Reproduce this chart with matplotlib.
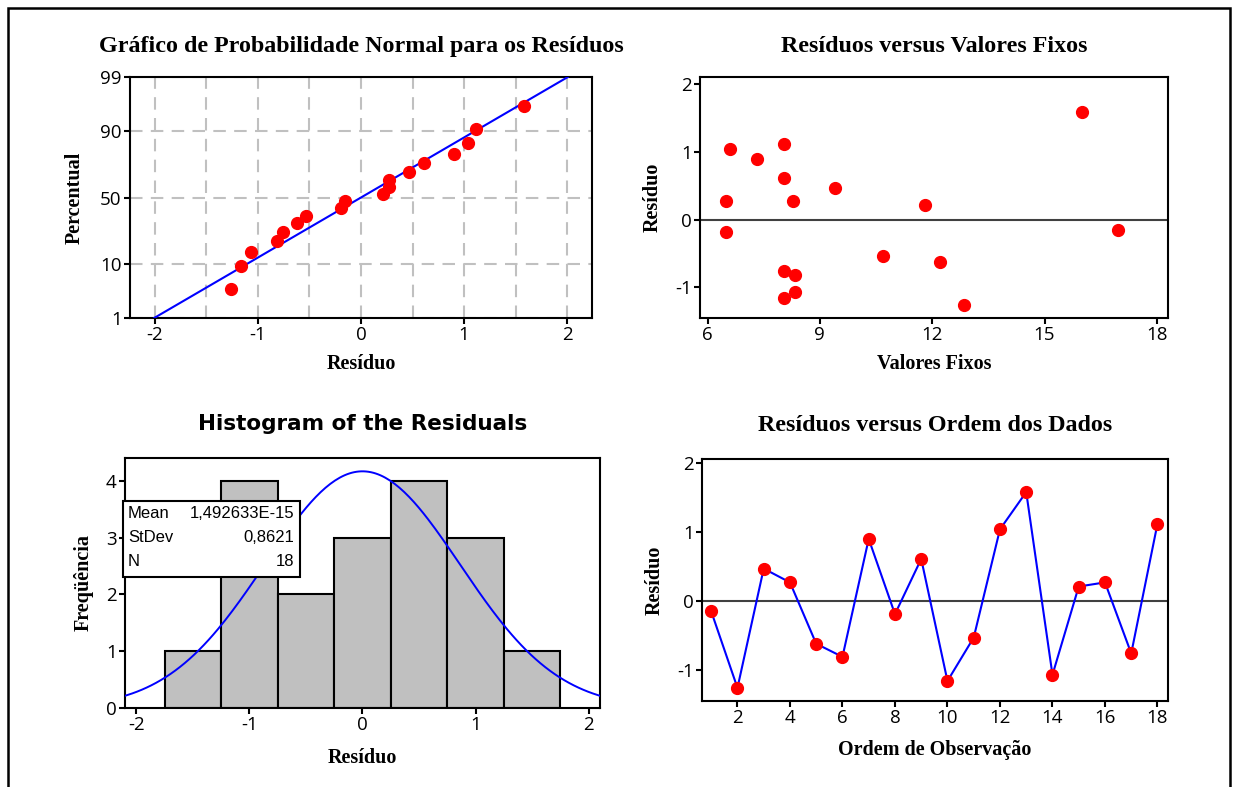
import numpy as np
import matplotlib
matplotlib.use("Agg")
from matplotlib import pyplot as plt
from matplotlib.patches import Rectangle
from matplotlib.ticker import FixedLocator
from statistics import NormalDist

# Residuals in observation order and the fitted values for the same observations
residuos = [-0.15, -1.26, 0.47, 0.27, -0.62, -0.81, 0.90, -0.19, 0.61,
            -1.16, -0.53, 1.04, 1.58, -1.07, 0.21, 0.27, -0.76, 1.12]
valores_fixos = [16.97, 12.85, 9.40, 6.48, 12.20, 8.34, 7.33, 6.48, 8.03,
                 8.03, 10.69, 6.59, 16.01, 8.34, 11.82, 8.29, 8.03, 8.03]
ordem = list(range(1, 19))

# Summary shown in the histogram box
media = 1.492633e-15
desvio = 0.8621
n_obs = 18

# Histogram bins
bordas = [-1.75, -1.25, -0.75, -0.25, 0.25, 0.75, 1.25, 1.75]

pct_ticks = [1, 10, 50, 90, 99]

serif = "Liberation Serif"
sans = "Open Sans"
plt.rcParams["font.family"] = sans
plt.rcParams["axes.linewidth"] = 1.5

nd = NormalDist()
_ppf = np.vectorize(lambda p: nd.inv_cdf(min(max(p / 100.0, 1e-9), 1 - 1e-9)), otypes=[float])
_cdf = np.vectorize(lambda z: 100.0 * nd.cdf(z), otypes=[float])


def probit(p):
    return _ppf(np.asarray(p, dtype=float))


def probit_inv(z):
    return _cdf(np.asarray(z, dtype=float))


def estilo(ax, titulo, xlabel, ylabel, tfont=serif, tsize=17.3, ypad=9, tpad=18, xpad=7):
    ax.set_title(titulo, fontfamily=tfont, fontweight="bold", fontsize=tsize, pad=tpad)
    ax.set_xlabel(xlabel, fontfamily=serif, fontweight="bold", fontsize=14.5, labelpad=xpad)
    ax.set_ylabel(ylabel, fontfamily=serif, fontweight="bold", fontsize=14.5, labelpad=ypad)
    ax.tick_params(direction="out", length=4, width=1.5, labelsize=13.5, pad=2,
                   top=False, right=False)


fig = plt.figure(figsize=(12.34, 7.87), dpi=100)
fig.add_artist(Rectangle((8 / 1234, -0.05), 1222 / 1234, 1.05 - 8 / 787,
                         transform=fig.transFigure, fill=False, lw=1.8, ec="black"))

ax1 = fig.add_axes([0.1053, 0.5959, 0.3744, 0.3062])
ax2 = fig.add_axes([0.5673, 0.5959, 0.3793, 0.3062])
ax3 = fig.add_axes([0.1013, 0.1004, 0.3849, 0.3177])
ax4 = fig.add_axes([0.5689, 0.1093, 0.3776, 0.3075])

# Normal probability plot
ordenados = np.sort(residuos)
i = np.arange(1, n_obs + 1)
percentis = 100 * (i - 0.3) / (n_obs + 0.4)
ax1.set_yscale("function", functions=(probit, probit_inv))
pl = np.linspace(1, 99, 50)
ax1.plot(media + desvio * probit(pl), pl, color="blue", lw=1.5, zorder=3)
ax1.plot(ordenados, percentis, "o", color="red", ms=8.5, zorder=4)
ax1.set_xlim(-2.24, 2.24)
ax1.set_ylim(1, 99)
ax1.yaxis.set_major_locator(FixedLocator(pct_ticks))
ax1.yaxis.set_minor_locator(FixedLocator([]))
ax1.set_yticklabels([str(p) for p in pct_ticks])
ax1.set_xticks([-2, -1, 0, 1, 2])
ax1.set_xticklabels(["-2", "-1", "0", "1", "2"])
ax1.set_xticks([-1.5, -0.5, 0.5, 1.5], minor=True)
ax1.tick_params(axis="x", which="minor", length=0)
ax1.grid(True, which="both", color="#c0c0c0", ls=(0, (6, 4)), lw=1.5, zorder=0)
estilo(ax1, "Gráfico de Probabilidade Normal para os Resíduos", "Resíduo", "Percentual",
       ypad=11)

# Residuals versus fits
ax2.axhline(0, color="#404040", lw=1.5, zorder=2)
ax2.plot(valores_fixos, residuos, "o", color="red", ms=8.5, zorder=3)
ax2.set_xlim(5.8, 18.3)
ax2.set_ylim(-1.45, 2.1)
ax2.set_xticks([6, 9, 12, 15, 18])
ax2.set_yticks([-1, 0, 1, 2])
ax2.set_yticklabels(["-1", "0", "1", "2"])
estilo(ax2, "Resíduos versus Valores Fixos", "Valores Fixos", "Resíduo")

# Histogram with normal curve
ax3.hist(residuos, bins=bordas, color="#c0c0c0", edgecolor="black", lw=1.5, zorder=2)
xc = np.linspace(-2.1, 2.1, 200)
larg = bordas[1] - bordas[0]
yc = n_obs * larg / (desvio * np.sqrt(2 * np.pi)) * np.exp(-0.5 * ((xc - media) / desvio) ** 2)
ax3.plot(xc, yc, color="blue", lw=1.4, zorder=3)
ax3.set_xlim(-2.1, 2.1)
ax3.set_ylim(0, 4.4)
ax3.set_xticks([-2, -1, 0, 1, 2])
ax3.set_xticklabels(["-2", "-1", "0", "1", "2"])
ax3.set_yticks([0, 1, 2, 3, 4])
estilo(ax3, "Histogram of the Residuals", "Resíduo", "Freqüência",
       tfont="DejaVu Sans", tsize=15.5, ypad=9, tpad=20, xpad=10)

# Summary box
bx0, by0 = 123 / 1234, 1 - 577 / 787
bw, bh = 177 / 1234, 76 / 787
fig.add_artist(Rectangle((bx0, by0), bw, bh, transform=fig.transFigure,
                         fc="white", ec="black", lw=1.5, zorder=5))
linhas = [("Mean", "1,492633E-15"), ("StDev", f"{desvio:.4f}".replace(".", ",")),
          ("N", str(n_obs))]
for k, (nome, valor) in enumerate(linhas):
    yy = by0 + bh - (13 + 24 * k) / 787
    fig.text(bx0 + 5 / 1234, yy, nome, fontsize=12, family="Liberation Sans",
             va="center", ha="left", zorder=6)
    fig.text(bx0 + bw - 6 / 1234, yy, valor, fontsize=12, family="Liberation Sans",
             va="center", ha="right", zorder=6)

# Residuals versus order
ax4.axhline(0, color="#404040", lw=1.5, zorder=2)
ax4.plot(ordem, residuos, "-", color="blue", lw=1.5, zorder=3)
ax4.plot(ordem, residuos, "o", color="red", ms=8.5, zorder=4)
ax4.set_xlim(0.65, 18.4)
ax4.set_ylim(-1.45, 2.06)
ax4.set_xticks(range(2, 19, 2))
ax4.set_yticks([-1, 0, 1, 2])
ax4.set_yticklabels(["-1", "0", "1", "2"])
estilo(ax4, "Resíduos versus Ordem dos Dados", "Ordem de Observação", "Resíduo",
       tpad=20, xpad=9)

fig.savefig("out.png", dpi=100)
